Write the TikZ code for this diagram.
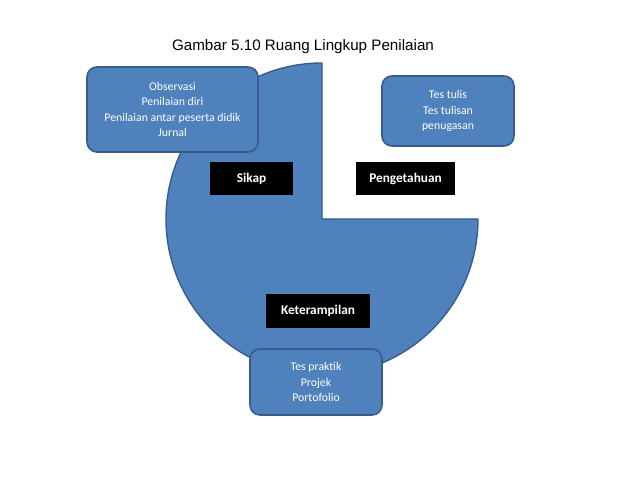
\documentclass[tikz,border=0pt]{standalone}
\usepackage{fontspec}
\setmainfont{Carlito}
\newfontfamily\titlefont{Liberation Sans}
\definecolor{pieblue}{HTML}{4F81BD}
\definecolor{edgeblue}{HTML}{385D8A}

\begin{document}
\begin{tikzpicture}[x=1pt, y=1pt,
  infobox/.style={draw=edgeblue, line width=1.6pt, fill=pieblue, rounded corners=10pt,
    text=white, align=center, inner sep=0pt, font=\fontsize{11.8}{15.5}\selectfont},
  aspect/.style={fill=black, text=white, inner sep=0pt, font=\fontsize{13.3}{15}\selectfont\bfseries}]
  \useasboundingbox (0,0) rectangle (638,479);
  \coordinate (O) at (322,260);
  % lingkaran tiga perempat
  \draw[edgeblue, line width=1.4pt, fill=pieblue]
    (O) -- ++(0,156) arc[start angle=90, end angle=360, radius=156] -- cycle;
  % judul
  \node[font=\titlefont\fontsize{15.2}{18}\selectfont] (judul) at (303,432)
    {Gambar 5.10 Ruang Lingkup Penilaian};
  % kotak keterangan
  \node[infobox, minimum width=171pt, minimum height=85pt] (sikapbox) at (172.5,369.5)
    {Observasi\\Penilaian diri\\Penilaian antar peserta didik\\Jurnal};
  \node[infobox, minimum width=132pt, minimum height=70pt] (tahubox) at (448,368)
    {Tes tulis\\Tes tulisan\\penugasan};
  \node[infobox, minimum width=132pt, minimum height=66pt] (terampilbox) at (316,97)
    {Tes praktik\\Projek\\Portofolio};
  % label aspek
  \node[aspect, minimum width=83pt, minimum height=33pt] (sikap) at (251.5,300.5) {Sikap};
  \node[aspect, minimum width=99pt, minimum height=33pt] (tahu) at (405.5,300.5) {Pengetahuan};
  \node[aspect, minimum width=104pt, minimum height=34pt] (terampil) at (318,168) {Keterampilan};
\end{tikzpicture}
\end{document}
